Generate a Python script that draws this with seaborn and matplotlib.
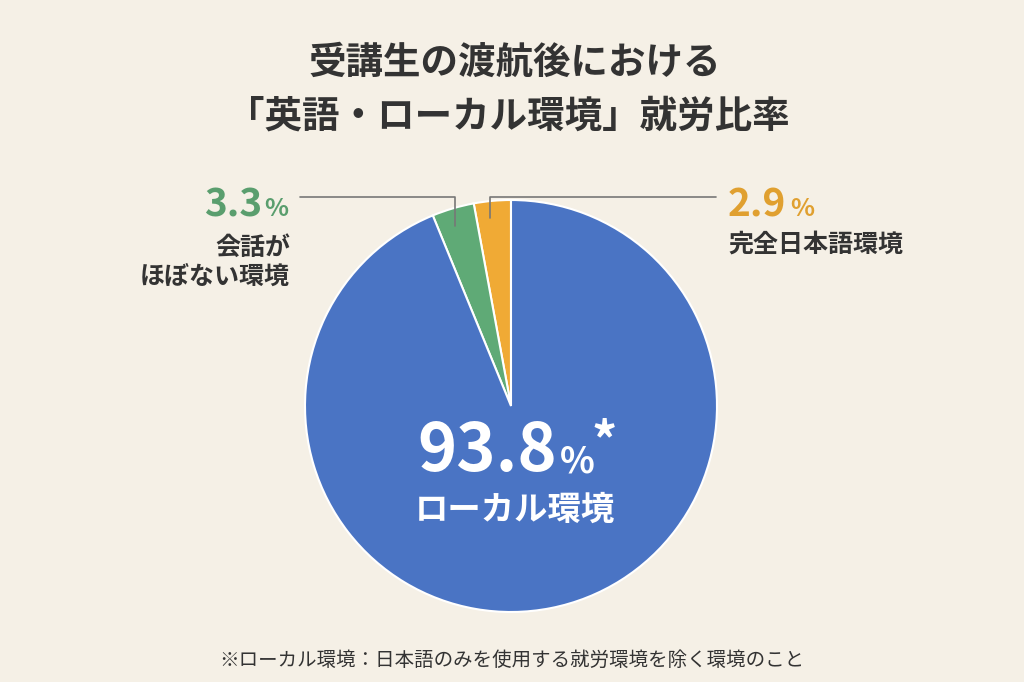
import matplotlib
matplotlib.use("Agg")
import matplotlib.pyplot as plt
import seaborn as sns

sns.set_theme(style="white")
plt.rcParams['font.family'] = ['Noto Sans CJK JP', 'DejaVu Sans']

labels = ["完全日本語環境", "会話が\nほぼない環境", "ローカル環境"]
values = [2.9, 3.3, 93.8]
colors = ["#F0AA35", "#5FAA76", "#4A74C4"]
bg = "#F5F0E6"

W, H = 1024, 682
fig = plt.figure(figsize=(W/100, H/100), dpi=100, facecolor=bg)
def fx(x): return x / W
def fy(y): return 1 - y / H

cx, cy, r = 511, 406, 206
ax = fig.add_axes([fx(cx - r), fy(cy + r), 2*r/W, 2*r/H])
ax.pie(values, colors=colors, startangle=90, counterclock=True,
       wedgeprops=dict(edgecolor="white", linewidth=1.5))
ax.set_aspect("auto")
ax.set_xlim(-1, 1)
ax.set_ylim(-1, 1)
ax.axis("off")

dark = "#333333"
fig.text(fx(515), fy(62), "受講生の渡航後における", ha="center", va="center",
         fontsize=27, fontweight="bold", color=dark)
fig.text(fx(508), fy(116), "「英語・ローカル環境」就労比率", ha="center", va="center",
         fontsize=27, fontweight="bold", color=dark)

# green label
fig.text(fx(262), fy(205), f"{values[1]}", ha="right", va="center",
         fontsize=28, fontweight="bold", color="#5A9E6E")
fig.text(fx(264), fy(209), "%", ha="left", va="center",
         fontsize=18, fontweight="bold", color="#5A9E6E")
fig.text(fx(290), fy(262), labels[1], ha="right", va="center",
         fontsize=18, fontweight="bold", color=dark, linespacing=1.25)
fig.add_artist(plt.Line2D([fx(300), fx(455), fx(455)], [fy(197), fy(197), fy(226)],
                          color="#777777", lw=1.2))
# orange label
fig.text(fx(728), fy(205), f"{values[0]}", ha="left", va="center",
         fontsize=28, fontweight="bold", color="#E0A030")
fig.text(fx(790), fy(209), "%", ha="left", va="center",
         fontsize=18, fontweight="bold", color="#E0A030")
fig.text(fx(728), fy(245), labels[0], ha="left", va="center",
         fontsize=18, fontweight="bold", color=dark)
fig.add_artist(plt.Line2D([fx(490), fx(490), fx(716)], [fy(218), fy(197), fy(197)],
                          color="#777777", lw=1.2))

# center label
fig.text(fx(557), fy(452), f"{values[2]}", ha="right", va="center",
         fontsize=48, fontweight="bold", color="white")
fig.text(fx(560), fy(462), "%", ha="left", va="center",
         fontsize=26, fontweight="bold", color="white")
fig.text(fx(592), fy(444), "*", ha="left", va="center",
         fontsize=36, fontweight="bold", color="white")
fig.text(fx(515), fy(510), labels[2], ha="center", va="center",
         fontsize=24, fontweight="bold", color="white")

fig.text(fx(512), fy(660), "※ローカル環境：日本語のみを使用する就労環境を除く環境のこと",
         ha="center", va="center", fontsize=14, color=dark)

fig.savefig("out.png", dpi=100, facecolor=bg)
